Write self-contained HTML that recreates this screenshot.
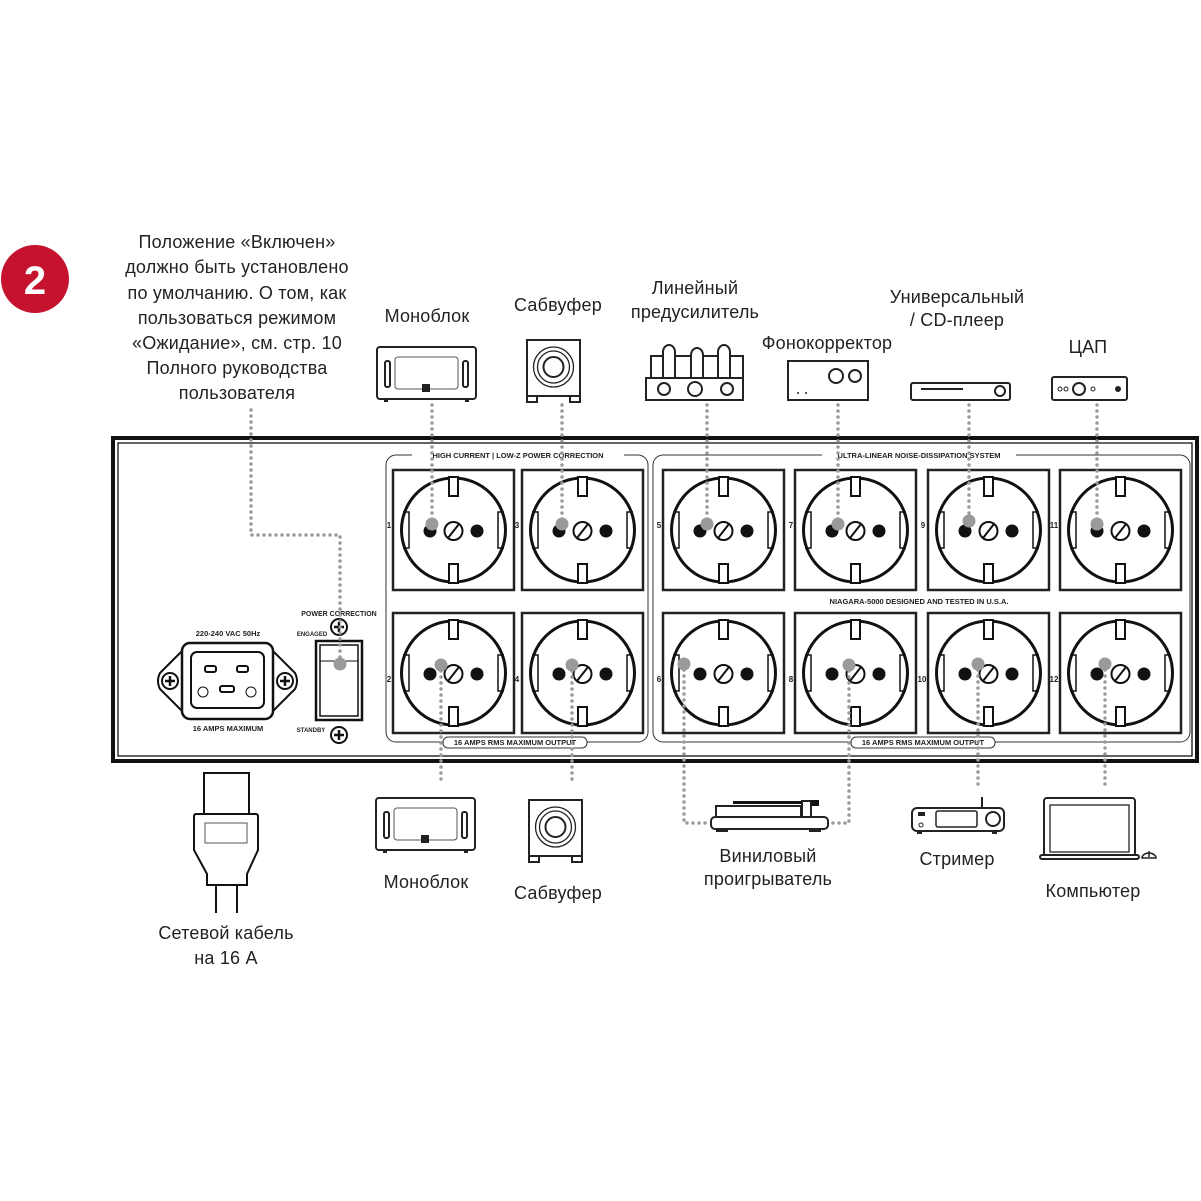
<!DOCTYPE html>
<html><head><meta charset="utf-8"><style>
html,body{margin:0;padding:0;background:#fff;}
svg{display:block;}
.t{font-family:"Liberation Sans","DejaVu Sans",sans-serif;fill:#222;font-size:18px;text-anchor:middle;letter-spacing:0.2px;}
.s{font-family:"Liberation Sans",sans-serif;fill:#222;font-size:7.5px;font-weight:bold;text-anchor:middle;}
.d{fill:none;stroke:#9a9a9a;stroke-width:3.5;stroke-linecap:round;stroke-dasharray:0 6;}
.k{fill:#fff;stroke:#222;stroke-width:2;}
</style></head><body>
<svg width="1201" height="1201" viewBox="0 0 1201 1201" xmlns="http://www.w3.org/2000/svg">
<defs>
<g id="sock">
<rect x="0" y="0" width="121" height="120" fill="#fff" stroke="#222" stroke-width="2.5"/>
<circle cx="60.5" cy="60" r="52" fill="#fff" stroke="#111" stroke-width="3"/>
<rect x="56" y="7" width="9" height="19" fill="#fff" stroke="#111" stroke-width="2"/>
<rect x="56" y="94" width="9" height="19" fill="#fff" stroke="#111" stroke-width="2"/>
<path d="M10 42 H16 V78 H10 M111 42 H105 V78 H111" fill="none" stroke="#111" stroke-width="1.5"/>
<circle cx="37" cy="61" r="6.5" fill="#111"/>
<circle cx="84" cy="61" r="6.5" fill="#111"/>
<circle cx="60.5" cy="61" r="9" fill="#fff" stroke="#111" stroke-width="2"/>
<line x1="55" y1="68" x2="66" y2="54" stroke="#111" stroke-width="2"/>
</g>
<g id="screw"><circle r="8" fill="#fff" stroke="#111" stroke-width="2"/><path d="M-5 0H5M0 -5V5" stroke="#111" stroke-width="2.5"/></g>
<g id="mono">
<rect x="0" y="0" width="99" height="52" rx="3" class="k"/>
<rect x="18" y="10" width="63" height="32" rx="3" fill="none" stroke="#555" stroke-width="1"/>
<rect x="8" y="14" width="5" height="26" rx="2" class="k" stroke-width="1.5"/>
<rect x="86" y="14" width="5" height="26" rx="2" class="k" stroke-width="1.5"/>
<rect x="45" y="37" width="8" height="8" fill="#222"/>
<rect x="7" y="52" width="4" height="3" fill="#222"/><rect x="88" y="52" width="4" height="3" fill="#222"/>
</g>
<g id="sub">
<rect x="0" y="0" width="53" height="56" class="k"/>
<circle cx="26.5" cy="27" r="20" fill="none" stroke="#222" stroke-width="1.3"/>
<circle cx="26.5" cy="27" r="16" fill="none" stroke="#222" stroke-width="1.3"/>
<circle cx="26.5" cy="27" r="10" fill="none" stroke="#222" stroke-width="2"/>
<rect x="0" y="56" width="10" height="6" class="k"/><rect x="43" y="56" width="10" height="6" class="k"/>
</g>
</defs>

<circle cx="35" cy="279" r="34" fill="#c4122f"/>
<text x="35" y="294" font-family="Liberation Sans,sans-serif" font-size="40" font-weight="bold" fill="#fff" text-anchor="middle">2</text>

<g class="t">
<text x="237" y="248">Положение «Включен»</text>
<text x="237" y="273">должно быть установлено</text>
<text x="237" y="299">по умолчанию. О том, как</text>
<text x="237" y="324">пользоваться режимом</text>
<text x="237" y="349">«Ожидание», см. стр. 10</text>
<text x="237" y="374">Полного руководства</text>
<text x="237" y="399">пользователя</text>
<text x="427" y="322">Моноблок</text>
<text x="558" y="311">Сабвуфер</text>
<text x="695" y="294">Линейный</text>
<text x="695" y="318">предусилитель</text>
<text x="827" y="349">Фонокорректор</text>
<text x="957" y="303">Универсальный</text>
<text x="957" y="326">/ CD-плеер</text>
<text x="1088" y="353">ЦАП</text>
<text x="426" y="888">Моноблок</text>
<text x="558" y="899">Сабвуфер</text>
<text x="768" y="862">Виниловый</text>
<text x="768" y="885">проигрыватель</text>
<text x="957" y="865">Стример</text>
<text x="1093" y="897">Компьютер</text>
<text x="226" y="939">Сетевой кабель</text>
<text x="226" y="964">на 16 А</text>
</g>

<use href="#mono" x="377" y="347"/>
<use href="#sub" x="527" y="340"/>
<g>
<path d="M651 379 V356 H743 V379" fill="none" stroke="#222" stroke-width="2"/>
<path d="M663 379 V352 a6 7 0 0 1 12 0 V379 M691 379 V355 a6 7 0 0 1 12 0 V379 M718 379 V352 a6 7 0 0 1 12 0 V379" fill="#fff" stroke="#222" stroke-width="2"/>
<rect x="646" y="378" width="97" height="22" class="k"/>
<circle cx="664" cy="389" r="6" class="k"/><circle cx="695" cy="389" r="7" class="k"/><circle cx="727" cy="389" r="6" class="k"/>
</g>
<g>
<rect x="788" y="361" width="80" height="39" class="k"/>
<circle cx="836" cy="376" r="7" class="k"/><circle cx="855" cy="376" r="6" class="k"/>
<circle cx="798" cy="393" r="1" fill="#222"/><circle cx="806" cy="393" r="1" fill="#222"/>
</g>
<g>
<rect x="911" y="383" width="99" height="17" rx="2" class="k"/>
<line x1="921" y1="389" x2="963" y2="389" stroke="#222" stroke-width="2"/>
<circle cx="1000" cy="391" r="5" class="k"/>
</g>
<g>
<rect x="1052" y="377" width="75" height="23" rx="2" class="k"/>
<circle cx="1060" cy="389" r="2" fill="none" stroke="#222"/><circle cx="1066" cy="389" r="2" fill="none" stroke="#222"/>
<circle cx="1079" cy="389" r="6" class="k"/><circle cx="1093" cy="389" r="2" fill="none" stroke="#222"/>
<circle cx="1118" cy="389" r="3" fill="#222"/>
</g>

<rect x="113" y="438" width="1084" height="323" fill="#fff" stroke="#111" stroke-width="4"/>
<rect x="118" y="443" width="1074" height="313" fill="none" stroke="#111" stroke-width="1.3"/>
<rect x="386" y="455" width="262" height="287" rx="10" fill="none" stroke="#333" stroke-width="1"/>
<rect x="653" y="455" width="537" height="287" rx="10" fill="none" stroke="#333" stroke-width="1"/>
<rect x="412" y="450" width="212" height="10" fill="#fff"/>
<text class="s" x="518" y="458">HIGH CURRENT | LOW-Z POWER CORRECTION</text>
<rect x="822" y="450" width="194" height="10" fill="#fff"/>
<text class="s" x="919" y="458">ULTRA-LINEAR NOISE-DISSIPATION SYSTEM</text>
<text class="s" x="919" y="604">NIAGARA-5000  DESIGNED AND TESTED IN U.S.A.</text>
<rect x="443" y="737" width="144" height="11" rx="5" fill="#fff" stroke="#333" stroke-width="1"/>
<text class="s" x="515" y="745">16 AMPS RMS MAXIMUM OUTPUT</text>
<rect x="851" y="737" width="144" height="11" rx="5" fill="#fff" stroke="#333" stroke-width="1"/>
<text class="s" x="923" y="745">16 AMPS RMS MAXIMUM OUTPUT</text>

<use href="#sock" x="393" y="470"/><use href="#sock" x="522" y="470"/>
<use href="#sock" x="663" y="470"/><use href="#sock" x="795" y="470"/>
<use href="#sock" x="928" y="470"/><use href="#sock" x="1060" y="470"/>
<use href="#sock" x="393" y="613"/><use href="#sock" x="522" y="613"/>
<use href="#sock" x="663" y="613"/><use href="#sock" x="795" y="613"/>
<use href="#sock" x="928" y="613"/><use href="#sock" x="1060" y="613"/>
<g class="s" style="font-size:8px">
<text x="389" y="528">1</text><text x="517" y="528">3</text><text x="659" y="528">5</text><text x="791" y="528">7</text><text x="923" y="528">9</text><text x="1054" y="528">11</text>
<text x="389" y="682">2</text><text x="517" y="682">4</text><text x="659" y="682">6</text><text x="791" y="682">8</text><text x="922" y="682">10</text><text x="1054" y="682">12</text>
</g>

<text class="s" x="228" y="636">220-240 VAC 50Hz</text>
<path d="M183 650 L160 673 Q156 681 160 689 L183 712 H272 L295 689 Q299 681 295 673 L272 650 Z" fill="#fff" stroke="#111" stroke-width="2"/>
<rect x="182" y="643" width="91" height="76" rx="8" fill="#fff" stroke="#111" stroke-width="2.5"/>
<rect x="191" y="652" width="73" height="56" rx="6" fill="#fff" stroke="#111" stroke-width="2"/>
<rect x="205" y="666" width="11" height="6" rx="2" fill="#fff" stroke="#111" stroke-width="2"/>
<rect x="237" y="666" width="11" height="6" rx="2" fill="#fff" stroke="#111" stroke-width="2"/>
<rect x="220" y="686" width="14" height="6" rx="2" fill="#fff" stroke="#111" stroke-width="2"/>
<circle cx="203" cy="692" r="5" fill="none" stroke="#111" stroke-width="1"/>
<circle cx="251" cy="692" r="5" fill="none" stroke="#111" stroke-width="1"/>
<use href="#screw" x="170" y="681"/><use href="#screw" x="285" y="681"/>
<text class="s" x="228" y="731">16 AMPS MAXIMUM</text>

<text class="s" x="339" y="616" style="font-size:7px">POWER CORRECTION</text>
<text class="s" x="312" y="636" style="font-size:6px">ENGAGED</text>
<text class="s" x="311" y="732" style="font-size:6px">STANDBY</text>
<use href="#screw" x="339" y="627"/><use href="#screw" x="339" y="735"/>
<rect x="316" y="641" width="46" height="79" fill="#fff" stroke="#111" stroke-width="2.5"/>
<rect x="320" y="645" width="38" height="71" fill="#fff" stroke="#111" stroke-width="1.5"/>
<path d="M320 661 H358" stroke="#111" stroke-width="1"/>

<use href="#mono" x="376" y="798"/>
<use href="#sub" x="529" y="800"/>
<g>
<rect x="711" y="817" width="117" height="12" rx="4" class="k"/>
<rect x="716" y="806" width="85" height="11" class="k" stroke-width="1.5"/>
<rect x="733" y="801" width="78" height="3" fill="#111"/>
<rect x="802" y="801" width="9" height="16" class="k" stroke-width="1.5"/>
<rect x="811" y="800" width="8" height="6" fill="#111"/>
<rect x="716" y="829" width="12" height="3" fill="#222"/><rect x="809" y="829" width="12" height="3" fill="#222"/>
</g>
<g>
<rect x="912" y="808" width="92" height="23" rx="5" class="k"/>
<line x1="982" y1="797" x2="982" y2="808" stroke="#222" stroke-width="2"/>
<rect x="936" y="811" width="41" height="16" rx="2" fill="none" stroke="#222" stroke-width="1.5"/>
<circle cx="993" cy="819" r="7" class="k"/>
<rect x="918" y="812" width="7" height="4" fill="#222"/>
<circle cx="921" cy="825" r="2" fill="none" stroke="#222"/>
<rect x="917" y="831" width="5" height="3" fill="#222"/><rect x="992" y="831" width="5" height="3" fill="#222"/>
</g>
<g>
<rect x="1044" y="798" width="91" height="58" rx="3" class="k"/>
<rect x="1050" y="805" width="79" height="47" fill="none" stroke="#222" stroke-width="1.3"/>
<rect x="1040" y="855" width="99" height="4" rx="2" class="k" stroke-width="1.5"/>
<path d="M1142 858 a7 5 0 0 1 14 0 Z M1149 851 V857" fill="#fff" stroke="#222" stroke-width="1.5"/>
</g>
<g fill="#fff" stroke="#111" stroke-width="2">
<rect x="204" y="773" width="45" height="42"/>
<path d="M196 814 H256 Q258 814 258 817 V850 L247 874 V885 H207 V874 L194 850 V817 Q194 814 196 814 Z"/>
<rect x="205" y="823" width="42" height="20" stroke-width="1" stroke="#555"/>
<path d="M216 885 V913 M237 885 V913"/>
</g>

<g class="d">
<path d="M251 410 V535 H340 V664"/>
<path d="M432 405 V524"/><path d="M562 405 V524"/><path d="M707 405 V524"/>
<path d="M838 405 V524"/><path d="M969 405 V521"/><path d="M1097 405 V524"/>
<path d="M441 665 V785"/><path d="M572 665 V785"/>
<path d="M684 664 V823 H706"/><path d="M849 665 V823 H832"/>
<path d="M978 664 V789"/><path d="M1105 664 V789"/>
</g>
<g fill="#9a9a9a">
<circle cx="340" cy="664" r="6.5"/>
<circle cx="432" cy="524" r="6.5"/><circle cx="562" cy="524" r="6.5"/><circle cx="707" cy="524" r="6.5"/>
<circle cx="838" cy="524" r="6.5"/><circle cx="969" cy="521" r="6.5"/><circle cx="1097" cy="524" r="6.5"/>
<circle cx="441" cy="665" r="6.5"/><circle cx="572" cy="665" r="6.5"/><circle cx="684" cy="664" r="6.5"/>
<circle cx="849" cy="665" r="6.5"/><circle cx="978" cy="664" r="6.5"/><circle cx="1105" cy="664" r="6.5"/>
</g>
</svg>
</body></html>
